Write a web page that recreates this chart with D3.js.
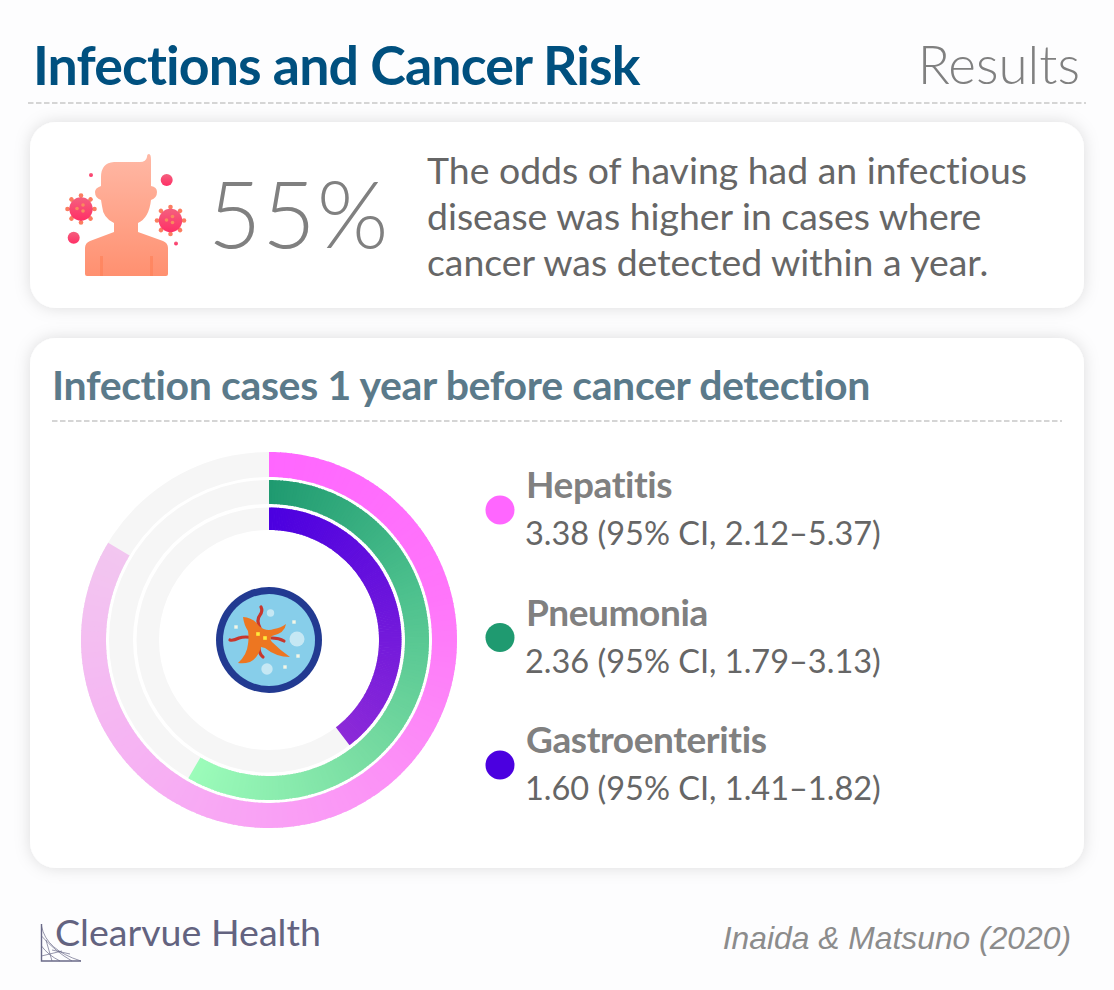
<!DOCTYPE html>
<html lang="en">
<head>
<meta charset="UTF-8">
<title>Infections and Cancer Risk</title>
<script src="https://d3js.org/d3.v7.min.js"></script>
<style>
  html, body { margin: 0; padding: 0; background: #fdfdfe; }
  text { font-family: Lato, sans-serif; font-variant-ligatures: none; }
</style>
</head>
<body>
<div id="chart"></div>
<script>
// data
var infections = ["Hepatitis", "Pneumonia", "Gastroenteritis"];
var oddsRatios = [3.38, 2.36, 1.60];
var ciLabels = ["3.38 (95% CI, 2.12\u20135.37)", "2.36 (95% CI, 1.79\u20133.13)", "1.60 (95% CI, 1.41\u20131.82)"];
var legendColors = ["#ff66ff", "#1f9a70", "#4b00e0"];
var ringColors = [
  ["#ff66ff", "#ff75fa", "#fb96f6", "#f6b2f3", "#f2c6f0"],
  ["#1f9a70", "#4cc08d", "#78dca2", "#9cfcba"],
  ["#4b00e0", "#8c2ad8"]
];
var bodyLines = ["The odds of having had an infectious", "disease was higher in cases where", "cancer was detected within a year."];

var width = 1114, height = 990;
var svg = d3.select("#chart").append("svg")
  .attr("width", width).attr("height", height)
  .style("display", "block");
var defs = svg.append("defs");

var shadow = defs.append("filter").attr("id", "cardShadow")
  .attr("x", "-5%").attr("y", "-15%").attr("width", "110%").attr("height", "130%");
shadow.append("feDropShadow").attr("dx", 0).attr("dy", 0).attr("stdDeviation", 8)
  .attr("flood-color", "#000").attr("flood-opacity", 0.13);

// header
svg.append("text").attr("x", 33).attr("y", 85)
  .attr("font-size", 53.7).attr("font-weight", 700).attr("fill", "#00507f")
  .attr("letter-spacing", -0.9).text("Infections and Cancer Risk");
svg.append("text").attr("x", 1080).attr("y", 84).attr("text-anchor", "end")
  .attr("font-size", 53).attr("font-weight", 300).attr("fill", "#808080").text("Results");
function dashed(x1, x2, y) {
  svg.append("line").attr("x1", x1).attr("x2", x2).attr("y1", y).attr("y2", y)
    .attr("stroke", "#c8c8c8").attr("stroke-width", 1.5).attr("stroke-dasharray", "5.5 2.5");
}
dashed(28, 1086, 103);

// cards
svg.append("rect").attr("x", 30).attr("y", 122).attr("width", 1054).attr("height", 186)
  .attr("rx", 26).attr("fill", "#fff").attr("filter", "url(#cardShadow)");
svg.append("rect").attr("x", 30).attr("y", 338).attr("width", 1054).attr("height", 530)
  .attr("rx", 26).attr("fill", "#fff").attr("filter", "url(#cardShadow)");

// top card
svg.append("text").attr("x", 208).attr("y", 248)
  .attr("font-size", 92).attr("font-weight", 300).attr("fill", "#808080")
  .attr("letter-spacing", 1).text("55%");
svg.selectAll(".bodyLine").data(bodyLines).join("text").attr("class", "bodyLine")
  .attr("x", 427).attr("y", function (d, i) { return 184 + i * 46; })
  .attr("font-size", 37.4).attr("fill", "#666").text(function (d) { return d; });

// person icon
var skin = defs.append("linearGradient").attr("id", "skin").attr("x1", 0).attr("x2", 0).attr("y1", 0).attr("y2", 1);
skin.append("stop").attr("offset", 0).attr("stop-color", "#ffb8a5");
skin.append("stop").attr("offset", 1).attr("stop-color", "#ff9070");
var germ = defs.append("linearGradient").attr("id", "germ").attr("x1", 0).attr("x2", 0).attr("y1", 0).attr("y2", 1);
germ.append("stop").attr("offset", 0).attr("stop-color", "#f4607e");
germ.append("stop").attr("offset", 1).attr("stop-color", "#ff2f66");

var person = svg.append("g");
person.append("path").attr("fill", "url(#skin)").attr("d",
  "M151 160 Q151 154 149 154 Q147 154 147 157 Q146 162 140 162 L114 162 Q101 163 101 177 L101 186 " +
  "Q95 188 95 192 Q95 198 101 200 L102 206 Q103 218 114 223 L114 232 L90 241 Q85 243 85 248 L85 274 Q85 276 87 276 " +
  "L166 276 Q168 276 168 274 L168 248 Q168 243 163 241 L138 232 L138 223 Q149 218 151 200 Q157 198 157 192 Q157 187 151 186 Z");
person.selectAll(".fold").data([100, 150]).join("rect").attr("class", "fold")
  .attr("x", function (d) { return d; }).attr("y", 256).attr("width", 3).attr("height", 20)
  .attr("fill", "#ff7f55").attr("opacity", 0.6);

function drawVirus(cx, cy) {
  var g = svg.append("g").attr("transform", "translate(" + cx + "," + cy + ")");
  d3.range(8).forEach(function (k) {
    g.append("line").attr("x1", 0).attr("y1", 0).attr("x2", 0).attr("y2", -14)
      .attr("stroke", "#fb7d60").attr("stroke-width", 2)
      .attr("transform", "rotate(" + k * 45 + ")");
    g.append("circle").attr("r", 2.3).attr("cy", -13.5).attr("fill", "#fb7d60")
      .attr("transform", "rotate(" + k * 45 + ")");
  });
  g.append("circle").attr("r", 11.7).attr("fill", "url(#germ)");
  g.selectAll(".dot").data([[-4, -0.5], [2, -4], [2, 2]]).join("circle").attr("class", "dot")
    .attr("cx", function (d) { return d[0]; }).attr("cy", function (d) { return d[1]; })
    .attr("r", 1.8).attr("fill", "#f98a5e");
}
drawVirus(81, 209);
drawVirus(170.5, 220.5);
[[166.7, 180, 6], [73.7, 237.7, 6], [91, 175, 2], [176, 243.5, 2]].forEach(function (d) {
  svg.append("circle").attr("cx", d[0]).attr("cy", d[1]).attr("r", d[2]).attr("fill", "url(#germ)");
});

// chart card
svg.append("text").attr("x", 52).attr("y", 400)
  .attr("font-size", 41).attr("font-weight", 700).attr("fill", "#5b7a8a")
  .attr("letter-spacing", -0.36).text("Infection cases 1 year before cancer detection");
dashed(52, 1062, 421);

// rings
var cx = 269, cy = 640;
var ringOuter = [188, 160, 132.5];
var ringInner = [163, 136, 110];
var angle = d3.scaleLinear().domain([0, 4.04]).range([0, 2 * Math.PI]);
var arc = d3.arc();
var rings = svg.append("g").attr("transform", "translate(" + cx + "," + cy + ")");

rings.selectAll(".track").data(oddsRatios).join("path").attr("class", "track")
  .attr("fill", "#f6f6f6")
  .attr("d", function (d, i) {
    return arc({ innerRadius: ringInner[i], outerRadius: ringOuter[i], startAngle: 0, endAngle: 2 * Math.PI });
  });

// the colour runs round the ring, so each value arc is cut in thin wedges
var wedgeCount = 180;
oddsRatios.forEach(function (v, i) {
  var color = d3.piecewise(d3.interpolateRgb, ringColors[i]);
  var fraction = d3.scaleLinear().domain([0, wedgeCount]).range([0, v]);
  rings.append("g").selectAll("path").data(d3.range(wedgeCount)).join("path")
    .attr("fill", function (k) { return color((k + 0.5) / wedgeCount); })
    .attr("d", function (k) {
      return arc({
        innerRadius: ringInner[i], outerRadius: ringOuter[i],
        startAngle: angle(fraction(k)),
        endAngle: k === wedgeCount - 1 ? angle(v) : angle(fraction(k + 1)) + 0.006
      });
    });
});

// petri dish icon
var dish = svg.append("g").attr("transform", "translate(" + cx + "," + cy + ")");
dish.append("circle").attr("r", 53).attr("fill", "#223a91");
dish.append("circle").attr("r", 46).attr("fill", "#87ceea");
[[28, -1, 7.5], [1.5, -27, 3.7], [-2, 29, 5.7]].forEach(function (d) {
  dish.append("circle").attr("cx", d[0]).attr("cy", d[1]).attr("r", d[2]).attr("fill", "#c6e8f4");
});
[[-33, -13], [25, -18], [29, 16], [16, 27]].forEach(function (d) {
  dish.append("rect").attr("x", d[0] - 1.7).attr("y", d[1] - 1.7).attr("width", 3.4).attr("height", 3.4).attr("fill", "#f3f6e6");
});
["M-9 -12 Q-13 -20 -9 -25 Q-6 -29 -8 -33", "M-15 -2 Q-24 -4 -30 -2 Q-36 1 -39 0", "M3 -2 Q10 -2 15 1",
 "M-10 7 Q-10 14 -6 17"].forEach(function (d) {
  dish.append("path").attr("d", d).attr("fill", "none").attr("stroke", "#c8372d")
    .attr("stroke-width", 3.2).attr("stroke-linecap", "round");
});
dish.append("path").attr("fill", "#ed7621").attr("d",
  "M-26 -23 Q-15 -22 -10 -14 Q-3 -8 5 -11 Q12 -12 17 -16 Q16 -7 3 -4 Q0 -1 3 2 Q11 10 21 17 " +
  "Q7 17 -4 8 L-8 7 Q-11 18 -19 22 Q-25 24 -31 23 Q-22 15 -21 4 Q-20 -3 -21 -9 Q-25 -15 -26 -23 Z");
dish.append("rect").attr("x", -12.8).attr("y", -7.8).attr("width", 3.6).attr("height", 3.6).attr("fill", "#ffe93b");
dish.append("rect").attr("x", -5.8).attr("y", -3.8).attr("width", 3.6).attr("height", 3.6).attr("fill", "#ffe93b");

// legend
var legendY = d3.scalePoint().domain(infections).range([510, 765]);
var legend = svg.selectAll(".legend").data(infections).join("g").attr("class", "legend")
  .attr("transform", function (d) { return "translate(0," + legendY(d) + ")"; });
legend.append("circle").attr("cx", 500).attr("cy", 0).attr("r", 14.5)
  .attr("fill", function (d, i) { return legendColors[i]; });
legend.append("text").attr("x", 526).attr("y", -12)
  .attr("font-size", 37).attr("font-weight", 700).attr("fill", "#808080")
  .attr("letter-spacing", -0.4).text(function (d) { return d; });
legend.append("text").attr("x", 525).attr("y", 35)
  .attr("font-size", 32.5).attr("fill", "#666").text(function (d, i) { return ciLabels[i]; });

// footer
var logo = svg.append("g").attr("stroke", "#6a6a88").attr("fill", "none");
logo.append("path").attr("stroke-width", 1.4).attr("d", "M41.5 924 L41.5 961 L81 961");
logo.append("path").attr("stroke-width", 0.7).attr("d",
  "M41.5 926 Q46 950 81 961 M41.5 936 Q56 952 72 961 M41.5 946 Q48 955 60 961 M46 940 L52 961 M52 950 L70 954 M41.5 956 L62 951");
svg.append("text").attr("x", 55).attr("y", 946)
  .attr("font-size", 37.6).attr("font-weight", 400).attr("fill", "#636380").text("Clearvue Health");
svg.append("text").attr("x", 1071).attr("y", 949).attr("text-anchor", "end")
  .attr("font-size", 31.8).attr("font-style", "italic").attr("fill", "#8c8c8c")
  .style("font-family", "'Liberation Sans', sans-serif").text("Inaida & Matsuno (2020)");
</script>
</body>
</html>
